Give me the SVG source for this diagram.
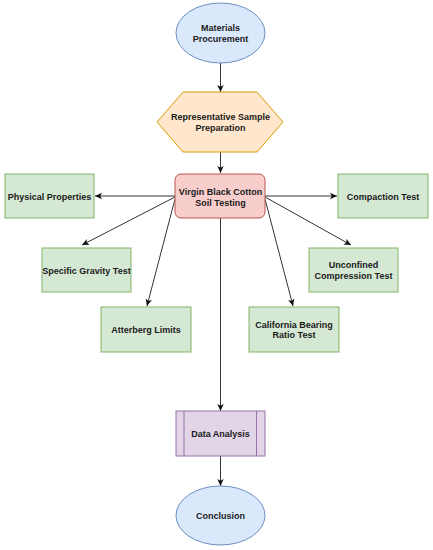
<svg xmlns="http://www.w3.org/2000/svg" width="433" height="550" viewBox="0 0 433 550">
<style>
text{font-family:"Liberation Sans",Arial,sans-serif;font-size:9px;font-weight:bold;fill:#1a1a1a;text-anchor:middle}
.blue{fill:#dae8fc;stroke:#6c8ebf;stroke-width:1}
.orange{fill:#ffe6cc;stroke:#d79b00;stroke-width:1}
.red{fill:#f8cecc;stroke:#b85450;stroke-width:1}
.green{fill:#d5e8d4;stroke:#82b366;stroke-width:1}
.purple{fill:#e1d5e7;stroke:#9673a6;stroke-width:1}
.edge{stroke:#333;stroke-width:1;fill:none;marker-end:url(#arr)}
</style>
<defs>
<marker id="arr" markerWidth="8" markerHeight="8" refX="7" refY="4" orient="auto" markerUnits="userSpaceOnUse">
<path d="M0,0.8 L7,4 L0,7.2 L1.8,4 Z" fill="#111"/>
</marker>
</defs>
<rect width="433" height="550" fill="#fff"/>
<g id="connectors">
<line class="edge" x1="220.5" y1="63" x2="220.5" y2="92"/>
<line class="edge" x1="220.5" y1="152" x2="220.5" y2="173"/>
<line class="edge" x1="175" y1="196" x2="95" y2="196"/>
<line class="edge" x1="265" y1="196" x2="337" y2="196"/>
<line class="edge" x1="175" y1="197" x2="82" y2="245"/>
<line class="edge" x1="175" y1="199" x2="147" y2="306"/>
<line class="edge" x1="265" y1="199" x2="293" y2="306"/>
<line class="edge" x1="265" y1="197" x2="351" y2="245"/>
<line class="edge" x1="220.5" y1="218" x2="220.5" y2="411"/>
<line class="edge" x1="220.5" y1="456" x2="220.5" y2="486"/>
</g>
<g id="materials">
<ellipse class="blue" cx="220.5" cy="33" rx="44.5" ry="30"/>
<text x="220.5" y="31">Materials</text>
<text x="220.5" y="41.5">Procurement</text>
</g>
<g id="sample">
<polygon class="orange" points="157,122 183,92 257,92 283,122 257,152 183,152"/>
<text x="220.5" y="120">Representative Sample</text>
<text x="220.5" y="130.5">Preparation</text>
</g>
<g id="testing">
<rect class="red" x="175" y="174" width="90" height="44" rx="6"/>
<text x="220.5" y="195">Virgin Black Cotton</text>
<text x="220.5" y="205.5">Soil Testing</text>
</g>
<g id="physical">
<rect class="green" x="5" y="174" width="89" height="44"/>
<text x="49.5" y="199.5">Physical Properties</text>
</g>
<g id="compaction">
<rect class="green" x="338" y="174" width="90" height="44"/>
<text x="383" y="199.5">Compaction Test</text>
</g>
<g id="gravity">
<rect class="green" x="42" y="248" width="89" height="44"/>
<text x="86.5" y="273.5">Specific Gravity Test</text>
</g>
<g id="unconfined">
<rect class="green" x="309" y="248" width="89" height="44"/>
<text x="353.5" y="268">Unconfined</text>
<text x="353.5" y="278.5">Compression Test</text>
</g>
<g id="atterberg">
<rect class="green" x="101" y="307" width="90" height="45"/>
<text x="146" y="333">Atterberg Limits</text>
</g>
<g id="cbr">
<rect class="green" x="249" y="307" width="90" height="45"/>
<text x="294" y="327.5">California Bearing</text>
<text x="294" y="338">Ratio Test</text>
</g>
<g id="analysis">
<rect class="purple" x="176" y="411" width="89" height="45"/>
<line class="purple" x1="184" y1="411" x2="184" y2="456"/>
<line class="purple" x1="256.5" y1="411" x2="256.5" y2="456"/>
<text x="220.5" y="437">Data Analysis</text>
</g>
<g id="conclusion">
<ellipse class="blue" cx="220.5" cy="515.5" rx="44.5" ry="29.5"/>
<text x="220.5" y="518.5">Conclusion</text>
</g>
</svg>
